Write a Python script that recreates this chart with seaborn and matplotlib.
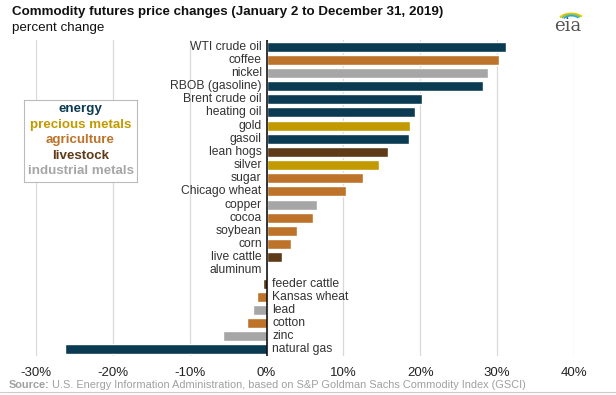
import numpy as np
import pandas as pd
import matplotlib
matplotlib.use('Agg')
import matplotlib.pyplot as plt
from matplotlib.patches import Arc
import seaborn as sns

commodities = [
    'WTI crude oil', 'coffee', 'nickel', 'RBOB (gasoline)', 'Brent crude oil',
    'heating oil', 'gold', 'gasoil', 'lean hogs', 'silver', 'sugar',
    'Chicago wheat', 'copper', 'cocoa', 'soybean', 'corn', 'live cattle',
    'aluminum', 'feeder cattle', 'Kansas wheat', 'lead', 'cotton', 'zinc',
    'natural gas',
]
changes = [
    31.1, 30.3, 28.8, 28.1, 20.2, 19.3, 18.7, 18.5, 15.8, 14.6, 12.5,
    10.3, 6.6, 6.1, 4.0, 3.2, 1.95, 0.1, -0.45, -1.3, -1.8, -2.5, -5.7,
    -26.2,
]
groups = [
    'energy', 'agriculture', 'industrial metals', 'energy', 'energy',
    'energy', 'precious metals', 'energy', 'livestock', 'precious metals',
    'agriculture', 'agriculture', 'industrial metals', 'agriculture',
    'agriculture', 'agriculture', 'livestock', 'industrial metals',
    'livestock', 'agriculture', 'industrial metals', 'agriculture',
    'industrial metals', 'energy',
]
group_names = ['energy', 'precious metals', 'agriculture', 'livestock', 'industrial metals']
group_colors = ['#0b3a53', '#c29a00', '#bd732a', '#5e3a17', '#a6a6a6']
x_ticks = [-30, -20, -10, 0, 10, 20, 30, 40]

df = pd.DataFrame({'commodity': commodities, 'change': changes, 'group': groups})
palette = dict(zip(group_names, group_colors))

sns.set_style('white')
plt.rcParams['font.family'] = ['Liberation Sans', 'DejaVu Sans']

fig = plt.figure(figsize=(6.16, 3.95), dpi=100)
ax = fig.add_axes([36 / 616, 1 - 356 / 395, 538 / 616, 316 / 395])

sns.barplot(data=df, x='change', y='commodity', hue='group', palette=palette,
            hue_order=group_names, order=commodities, dodge=False, orient='h',
            width=0.76, legend=False, ax=ax, saturation=1)

ax.set_xlim(-30, 40)
ax.set_ylim(len(commodities) - 0.5, -0.5)
ax.set_xticks(x_ticks)
ax.set_xticklabels([f'{t}%' for t in x_ticks], fontsize=9.5, color='#222222')
ax.tick_params(axis='x', length=0, pad=8)
ax.set_yticks([])
ax.set_xlabel('')
ax.set_ylabel('')
for s in ax.spines.values():
    s.set_visible(False)
ax.grid(axis='x', color='#d9d9d9', linewidth=0.9)
ax.set_axisbelow(True)
ax.axvline(0, color='black', linewidth=1.1, zorder=3)

# category labels on the opposite side of the bar
for i, (name, val) in enumerate(zip(commodities, changes)):
    if val >= 0:
        ax.annotate(name, (0, i), xytext=(-3.5, 0), textcoords='offset points',
                    ha='right', va='center', fontsize=8.7, color='#333333')
    else:
        ax.annotate(name, (0, i), xytext=(4, 0), textcoords='offset points',
                    ha='left', va='center', fontsize=8.7, color='#333333')

# legend box
leg_ax = fig.add_axes([24 / 616, 1 - 182 / 395, 113 / 616, 82 / 395])
leg_ax.set_xticks([])
leg_ax.set_yticks([])
leg_ax.set_facecolor('white')
for s in leg_ax.spines.values():
    s.set_color('#bbbbbb')
for k, (g, c) in enumerate(zip(group_names, group_colors)):
    leg_ax.text(0.5, 0.89 - k * 0.19, g, ha='center', va='center',
                fontsize=9.6, fontweight='bold', color=c, transform=leg_ax.transAxes)

fig.text(12 / 616, 1 - 12 / 395, 'Commodity futures price changes (January 2 to December 31, 2019)',
         fontsize=9.6, fontweight='bold', va='center', color='#111111')
fig.text(12 / 616, 1 - 28 / 395, 'percent change', fontsize=9.6, va='center', color='#111111')

# eia logo
fig.text(568 / 616, 1 - 26 / 395, 'eia', fontsize=13, family='DejaVu Serif',
         ha='center', va='center', color='#555555')
logo_ax = fig.add_axes([556 / 616, 1 - 21 / 395, 28 / 616, 12 / 395])
logo_ax.set_xlim(0, 1)
logo_ax.set_ylim(0, 1)
logo_ax.axis('off')
for r, c in zip([0.9, 0.75, 0.6], ['#f2c400', '#8cc63f', '#29a8e0']):
    logo_ax.add_patch(Arc((0.55, 0.05), r, r * 1.3, theta1=40, theta2=150, color=c, linewidth=1.2))

fig.text(9 / 616, 1 - 385 / 395, 'Source:', fontsize=7.9, fontweight='bold',
         color='#a0a0a0', va='center')
fig.text(52 / 616, 1 - 385 / 395,
         'U.S. Energy Information Administration, based on S&P Goldman Sachs Commodity Index (GSCI)',
         fontsize=7.9, color='#a0a0a0', va='center')
fig.add_artist(plt.Line2D([0, 1], [1 - 392 / 395] * 2, color='#cccccc', linewidth=0.8))

fig.savefig('out.png', dpi=100)
